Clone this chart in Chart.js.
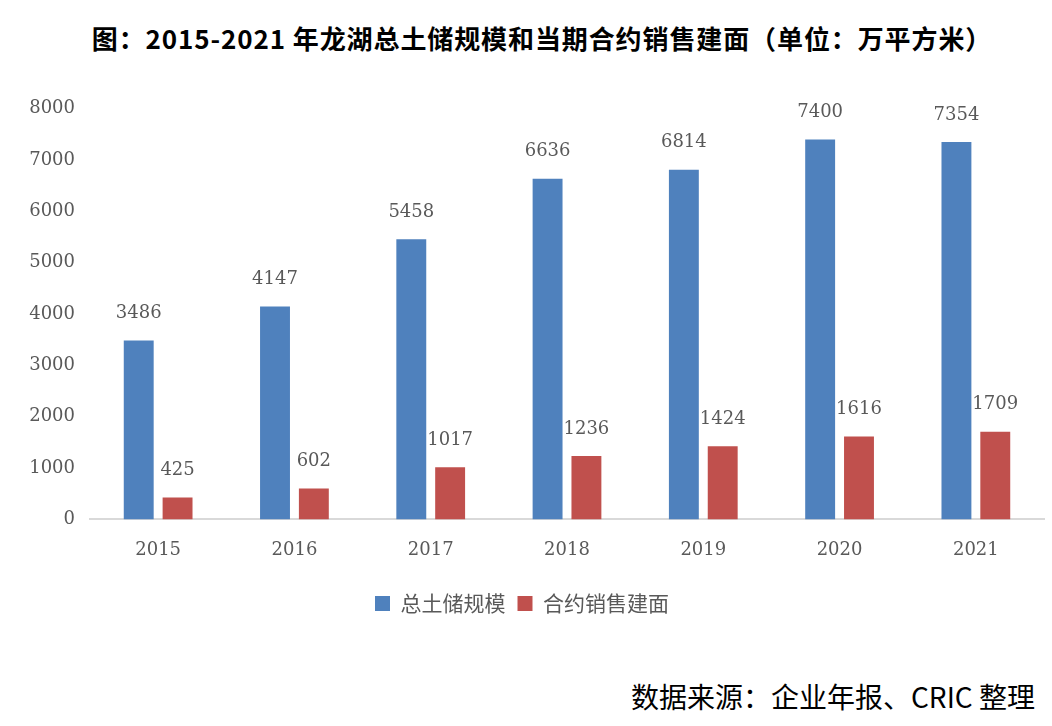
<!DOCTYPE html>
<html>
<head>
<meta charset="utf-8">
<script src="https://cdn.jsdelivr.net/npm/chart.js@4/dist/chart.umd.min.js"></script>
<style>
  body { margin: 0; background: #fff; }
  #page { position: relative; width: 1052px; height: 726px; overflow: hidden; }
  #title { position: absolute; left: 16px; top: 19px; width: 1052px; text-align: center;
    font: bold 26px "Noto Sans CJK SC", sans-serif; letter-spacing: 0.9px; color: #000; }
  #wrap { position: absolute; left: 0; top: 83px; width: 1052px; height: 560px; }
  #source { position: absolute; right: 17px; top: 676px;
    font: 28px "Noto Sans CJK SC", serif; color: #000; }
</style>
</head>
<body>
<div id="page">
  <div id="title">图：2015-2021 年龙湖总土储规模和当期合约销售建面（单位：万平方米）</div>
  <div id="wrap"><canvas id="chart"></canvas></div>
  <div id="source">数据来源：企业年报、CRIC 整理</div>
</div>
<script>
const years = ['2015', '2016', '2017', '2018', '2019', '2020', '2021'];
const landBank = [3486, 4147, 5458, 6636, 6814, 7400, 7354];
const contractArea = [425, 602, 1017, 1236, 1424, 1616, 1709];
const seriesNames = ['总土储规模', '合约销售建面'];
const yTicks = [0, 1000, 2000, 3000, 4000, 5000, 6000, 7000, 8000];

const numFont = '"DejaVu Serif", serif';

// value labels above each bar
const barLabels = {
    id: 'barLabels',
    afterDatasetsDraw(chart) {
        const ctx = chart.ctx;
        ctx.save();
        ctx.font = '18px ' + numFont;
        ctx.fillStyle = '#595959';
        ctx.textAlign = 'center';
        ctx.textBaseline = 'middle';
        chart.data.datasets.forEach((ds, i) => {
            chart.getDatasetMeta(i).data.forEach((bar, j) => {
                ctx.fillText(ds.data[j], bar.x, bar.y - 27);
            });
        });
        ctx.restore();
    }
};

new Chart(document.getElementById('chart'), {
    type: 'bar',
    data: {
        labels: years,
        datasets: [{
            label: seriesNames[0],
            data: landBank,
            backgroundColor: '#4F81BD'
        }, {
            label: seriesNames[1],
            data: contractArea,
            backgroundColor: '#C0504D'
        }]
    },
    options: {
        responsive: true,
        maintainAspectRatio: false,
        animation: false,
        categoryPercentage: 0.57,
        barPercentage: 0.77,
        layout: { padding: { top: 12, right: 8, left: 0, bottom: 19 } },
        plugins: {
            legend: {
                position: 'bottom',
                labels: {
                    boxWidth: 15,
                    boxHeight: 15,
                    padding: 12,
                    color: '#595959',
                    font: { family: '"Noto Sans CJK SC", sans-serif', size: 21 }
                }
            },
            tooltip: { enabled: false }
        },
        scales: {
            x: {
                grid: { display: false, drawTicks: false },
                border: { color: '#D9D9D9', width: 2 },
                ticks: { color: '#595959', padding: 20, font: { family: numFont, size: 18 } }
            },
            y: {
                min: 0,
                max: 8000,
                afterBuildTicks(axis) { axis.ticks = yTicks.map(v => ({ value: v })); },
                afterFit(axis) { axis.width = 90; },
                grid: { display: false, drawTicks: false },
                border: { display: false },
                ticks: {
                    color: '#595959',
                    padding: 15,
                    font: { family: numFont, size: 18 },
                    callback: v => String(v)
                }
            }
        }
    },
    plugins: [barLabels]
});
</script>
</body>
</html>
